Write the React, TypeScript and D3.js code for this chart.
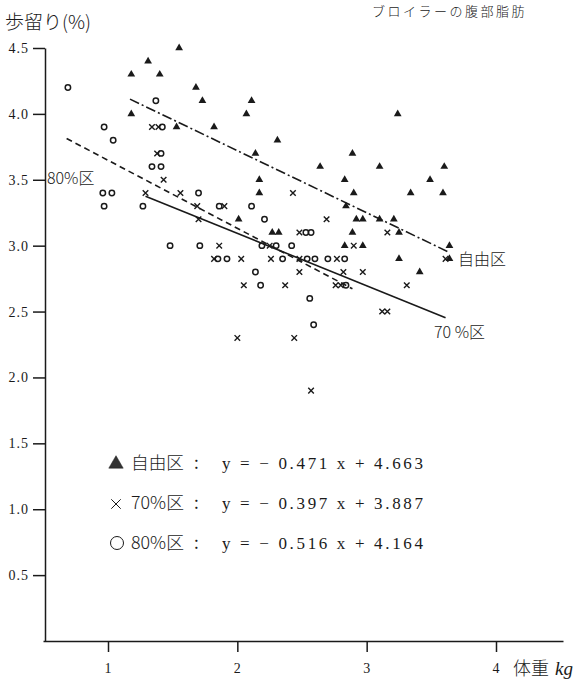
import { useEffect, useRef } from "react";
import * as d3 from "d3";

// regression groups
const groups = ["自由区", "70%区", "80%区"];
const slopes = [-0.471, -0.397, -0.516];
const intercepts = [4.663, 3.887, 4.164];
const fitFrom = [1.17, 1.29, 0.68];
const fitTo = [3.64, 3.61, 2.89];
const lineDash = ["10 3 2 3", null, "6 4"];

// [体重 kg, 歩留り %]
const freePts: [number, number][] = [
    [1.55, 4.5], [1.31, 4.4], [1.18, 4.3], [1.40, 4.3], [1.68, 4.2], [1.73, 4.1], [2.11, 4.1],
    [1.18, 4.0], [2.07, 4.0], [3.24, 4.0], [1.53, 3.9], [1.82, 3.9], [2.31, 3.8], [2.14, 3.7],
    [2.89, 3.7], [2.64, 3.6], [3.10, 3.6], [3.60, 3.6], [2.17, 3.5], [2.83, 3.5], [3.49, 3.5],
    [2.17, 3.4], [2.90, 3.4], [3.34, 3.4], [3.59, 3.4], [2.84, 3.3], [2.01, 3.2], [2.92, 3.2],
    [2.97, 3.2], [3.10, 3.2], [3.21, 3.2], [2.27, 3.1], [2.32, 3.1], [2.89, 3.1], [3.25, 3.1],
    [2.83, 3.0], [2.97, 3.0], [3.64, 3.0], [3.25, 2.9], [3.64, 2.9], [3.41, 2.8]
];
const pct70Pts: [number, number][] = [
    [1.34, 3.9], [1.39, 3.9], [1.38, 3.7], [1.43, 3.5], [2.43, 3.4], [1.29, 3.4], [1.56, 3.4],
    [1.69, 3.3], [1.90, 3.3], [1.70, 3.2], [2.69, 3.2], [2.48, 3.1], [3.16, 3.1], [1.86, 3.0],
    [2.25, 3.0], [2.90, 3.0], [1.82, 2.9], [2.03, 2.9], [2.26, 2.9], [2.48, 2.9], [2.77, 2.9],
    [3.61, 2.9], [2.48, 2.8], [2.82, 2.8], [2.97, 2.8], [2.05, 2.7], [2.37, 2.7], [2.76, 2.7],
    [2.80, 2.7], [3.31, 2.7], [3.12, 2.5], [3.16, 2.5], [2.00, 2.3], [2.44, 2.3], [2.57, 1.9]
];
const pct80Pts: [number, number][] = [
    [0.69, 4.2], [1.37, 4.1], [0.97, 3.9], [1.42, 3.9], [1.04, 3.8], [1.41, 3.7], [1.34, 3.6],
    [1.41, 3.6], [0.96, 3.4], [1.03, 3.4], [1.70, 3.4], [0.97, 3.3], [1.27, 3.3], [1.86, 3.3],
    [2.11, 3.3], [2.21, 3.2], [2.53, 3.1], [2.57, 3.1], [1.48, 3.0], [1.71, 3.0], [2.19, 3.0],
    [2.30, 3.0], [2.42, 3.0], [1.85, 2.9], [1.92, 2.9], [2.35, 2.9], [2.54, 2.9], [2.60, 2.9],
    [2.70, 2.9], [2.83, 2.9], [2.14, 2.8], [2.18, 2.7], [2.84, 2.7], [2.56, 2.6], [2.59, 2.4]
];

const yTicks = [0.5, 1.0, 1.5, 2.0, 2.5, 3.0, 3.5, 4.0, 4.5];
const xTicks = [1, 2, 3, 4];

const INK = "#1a1a1a";
const SERIF = "'Liberation Serif', 'DejaVu Serif', serif";
const CJK = "'Noto Sans CJK JP', sans-serif";

export default function App() {
    const ref = useRef<SVGSVGElement | null>(null);

    useEffect(() => {
        const svg = d3.select(ref.current);
        svg.selectAll("*").remove();

        const x = d3.scaleLinear().domain([1, 4]).range([108, 496]);
        const y = d3.scaleLinear().domain([0, 4.5]).range([641, 48]);
        const xa = d3.scaleLinear().domain([x.invert(43), x.invert(563)]).range([43, 563]);

        // axes
        const yAxis = d3.axisLeft(y).tickValues(yTicks).tickSize(12).tickSizeOuter(0)
            .tickPadding(4).tickFormat(d3.format(".1f"));
        const gy = svg.append("g").attr("transform", "translate(45,0)").call(yAxis);
        const xAxis = d3.axisBottom(xa).tickValues(xTicks).tickSize(11).tickSizeOuter(0)
            .tickPadding(11).tickFormat(d3.format("d"));
        const gx = svg.append("g").attr("transform", "translate(0,641)").call(xAxis);

        [gx, gy].forEach(g => {
            g.selectAll("path, line").attr("stroke", INK).attr("stroke-width", 1.5);
            g.selectAll("text").attr("fill", INK).style("font-family", SERIF)
                .style("font-size", "14px").style("letter-spacing", "1px");
        });

        // regression lines
        const line = d3.line<number>().x(d => x(d[0])).y(d => y(d[1]));
        groups.forEach((_, i) => {
            const pts = [fitFrom[i], fitTo[i]].map(v => [v, intercepts[i] + slopes[i] * v]);
            svg.append("path")
                .attr("d", line(pts as any))
                .attr("fill", "none")
                .attr("stroke", INK)
                .attr("stroke-width", 1.6)
                .attr("stroke-dasharray", lineDash[i]);
        });

        // points
        const tri = d3.symbol(d3.symbolTriangle, 26);
        const cross = d3.symbol(d3.symbolX, 22);

        svg.append("g").selectAll("path").data(freePts).enter().append("path")
            .attr("d", tri)
            .attr("transform", d => `translate(${x(d[0])},${y(d[1])})`)
            .attr("fill", INK);

        svg.append("g").selectAll("path").data(pct70Pts).enter().append("path")
            .attr("d", cross)
            .attr("transform", d => `translate(${x(d[0])},${y(d[1])})`)
            .attr("fill", "none")
            .attr("stroke", INK)
            .attr("stroke-width", 1.4);

        svg.append("g").selectAll("circle").data(pct80Pts).enter().append("circle")
            .attr("cx", d => x(d[0]))
            .attr("cy", d => y(d[1]))
            .attr("r", 2.7)
            .attr("fill", "none")
            .attr("stroke", INK)
            .attr("stroke-width", 1.5);

        // line labels
        const lbl = (t: string, px: number, py: number) =>
            svg.append("text").attr("x", px).attr("y", py).text(t)
                .attr("fill", INK).style("font-family", CJK).style("font-size", "16px")
                .style("font-weight", 300);
        lbl("80%区", 47, 184);
        lbl("自由区", 458, 265);
        lbl("70 %区", 434, 338);

        // legend
        const legY = [463, 503, 543];
        const legMarks = [
            d3.symbol(d3.symbolTriangle, 90)(),
            d3.symbol(d3.symbolX, 60)(),
            null
        ];
        groups.forEach((g, i) => {
            const row = svg.append("g").attr("transform", `translate(0,${legY[i]})`);
            if (i === 2) {
                row.append("circle").attr("cx", 117).attr("cy", 0).attr("r", 6.5)
                    .attr("fill", "none").attr("stroke", INK).attr("stroke-width", 1);
            } else {
                row.append("path").attr("d", legMarks[i] as string)
                    .attr("transform", "translate(116,1)")
                    .attr("fill", i === 0 ? "#333" : "none")
                    .attr("stroke", INK).attr("stroke-width", i === 0 ? 0.5 : 1);
            }
            row.append("text").attr("x", 131).attr("y", 6).text(g)
                .attr("textLength", 53).attr("lengthAdjust", "spacingAndGlyphs")
                .attr("fill", INK).style("font-family", CJK).style("font-size", "17px")
                .style("font-weight", 300);
            row.append("text").attr("x", 194).attr("y", 6).text(":")
                .attr("fill", INK).style("font-family", CJK).style("font-size", "17px");
            const eq = `y = − ${Math.abs(slopes[i]).toFixed(3)} x + ${intercepts[i].toFixed(3)}`;
            row.append("text").attr("x", 222).attr("y", 6).text(eq)
                .attr("textLength", 201).attr("lengthAdjust", "spacing")
                .attr("fill", INK).style("font-family", SERIF).style("font-size", "17px");
        });

        // titles
        svg.append("text").attr("x", 5).attr("y", 29).text("歩留り(%)")
            .attr("fill", INK).style("font-family", CJK).style("font-size", "19px")
            .style("font-weight", 300);
        svg.append("text").attr("x", 513).attr("y", 675).text("体重")
            .attr("fill", INK).style("font-family", CJK).style("font-size", "18px")
            .style("font-weight", 300);
        svg.append("text").attr("x", 555).attr("y", 675).text("kg")
            .attr("fill", INK).style("font-family", SERIF).style("font-size", "19px")
            .style("font-style", "italic");
        // caption at the top edge (cropped in the scan)
        svg.append("text").attr("x", 372).attr("y", 16).text("ブロイラーの腹部脂肪")
            .attr("fill", INK).style("font-family", CJK).style("font-size", "13px")
            .style("font-weight", 300).style("letter-spacing", "2.5px");
    }, []);

    return (
        <div style={{ position: "absolute", left: 0, top: 0, width: 583, height: 688, background: "#fff" }}>
            <svg ref={ref} width={583} height={688}></svg>
        </div>
    );
}
